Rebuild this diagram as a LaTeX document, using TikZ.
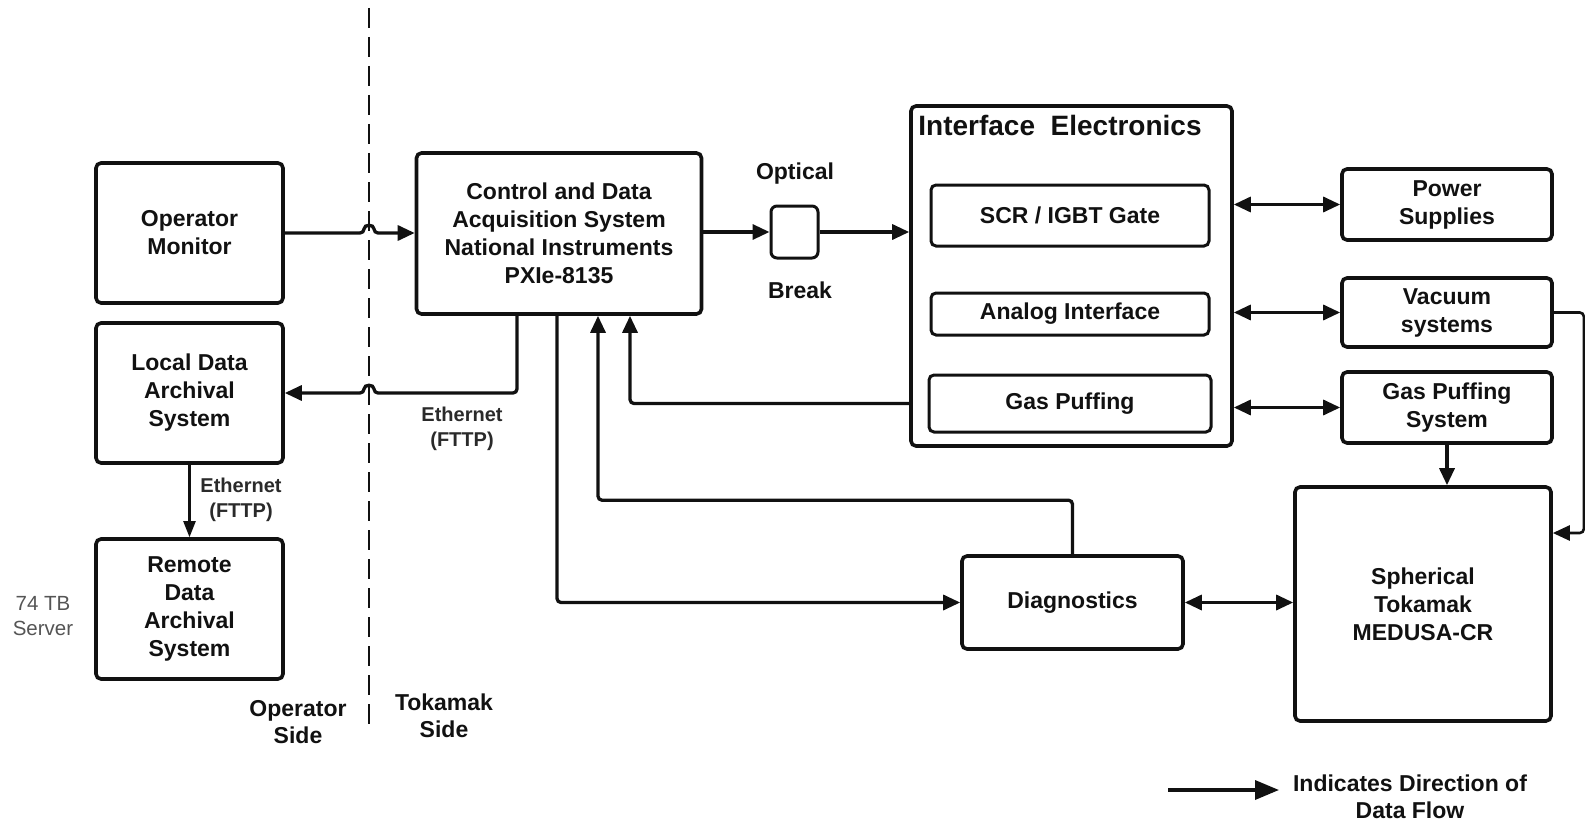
\documentclass[tikz,border=0pt]{standalone}
\usepackage{fontspec}
\setmainfont{Liberation Sans}
\usetikzlibrary{arrows.meta,calc}
\definecolor{ink}{HTML}{111111}
\definecolor{soft}{HTML}{2A2A2A}
\definecolor{note}{HTML}{555555}
\begin{document}
\begin{tikzpicture}[x=1pt,y=-1pt,
  box/.style={draw=ink, line width=3.6pt, rounded corners=5pt, align=center,
    inner sep=0pt, text=ink, font=\bfseries\fontsize{23}{28}\selectfont},
  flow/.style={draw=ink, line width=3.3pt, rounded corners=4pt,
    -{Triangle[length=17pt,width=15pt]}},
  both/.style={draw=ink, line width=3.3pt,
    {Triangle[length=17pt,width=15pt]}-{Triangle[length=17pt,width=15pt]}},
  thinflow/.style={draw=ink, line width=2.2pt,
    -{Triangle[length=16pt,width=12pt]}},
  lbl/.style={align=center, inner sep=0pt, text=ink,
    font=\bfseries\fontsize{23}{27}\selectfont},
  netlbl/.style={align=center, inner sep=0pt, text=soft,
    font=\bfseries\fontsize{20}{25.5}\selectfont},
]
\useasboundingbox (0,0) rectangle (1585,824);

% operator / tokamak divider
\coordinate (dtop) at (369,8);
\coordinate (dbot) at (369,730);
\draw[ink, line width=2.4pt, dash pattern=on 20pt off 9pt] (dtop) -- (dbot);

% operator side
\node[box, minimum width=187pt, minimum height=140pt] (om) at (189.5,233) {Operator\\Monitor};
\node[box, minimum width=187pt, minimum height=140pt] (ld) at (189.5,393) {Local Data\\Archival\\System};
\node[box, minimum width=187pt, minimum height=140pt] (rd) at (189.5,609) {Remote\\Data\\Archival\\System};

% control and acquisition
\node[box, minimum width=285pt, minimum height=161pt] (ctrl) at (559,233.5)
  {Control and Data\\Acquisition System\\National Instruments\\PXIe-8135};

% optical break
\node[draw=ink, line width=3pt, rounded corners=6pt, minimum width=47pt, minimum height=52pt, inner sep=0pt] (ob) at (794.5,232) {};
\node[lbl] (optl) at (795,174) {Optical};
\node[lbl] (brkl) at (800,290) {Break};

% interface electronics
\node[box, minimum width=321pt, minimum height=340pt] (ie) at (1071.5,276) {};
\node[anchor=base west, inner sep=0pt, text=ink, font=\bfseries\fontsize{28}{32}\selectfont]
  (iet) at ([xshift=9pt,yshift=-31pt]ie.north west) {Interface\ \ Electronics};
\node[box, line width=3pt, minimum width=278pt, minimum height=61pt] (scr) at (1070,215.5) {SCR / IGBT Gate};
\node[box, line width=3pt, minimum width=278pt, minimum height=42pt] (an) at (1070,314) {Analog Interface};
\node[box, line width=3pt, minimum width=282pt, minimum height=57pt] (gp) at (1070,403.5) {Gas Puffing};

% plant subsystems
\node[box, minimum width=210pt, minimum height=71pt] (ps) at (1447,204.5) {Power\\Supplies};
\node[box, minimum width=210pt, minimum height=69pt] (vac) at (1447,312.5) {Vacuum\\systems};
\node[box, minimum width=210pt, minimum height=71pt] (gps) at (1447,407.5) {Gas Puffing\\System};
\node[box, minimum width=256pt, minimum height=234pt] (tok) at (1423,604) {Spherical\\Tokamak\\MEDUSA-CR};
\node[box, minimum width=221pt, minimum height=93pt] (diag) at (1072.5,602.5) {Diagnostics};

% operator monitor to control (hop over divider)
\draw[flow] (om.east) -- ($(om.east -| dtop)+(-5,0)$)
  .. controls +(0,-9) and +(0,-9) .. ($(om.east -| dtop)+(5,0)$) -- (om.east -| ctrl.west);

% control to local archive (hop over divider)
\draw[flow] ([xshift=-42pt]ctrl.south) |- ($(ld.east -| dtop)+(5,0)$)
  .. controls +(0,-9) and +(0,-9) .. ($(ld.east -| dtop)+(-5,0)$) -- (ld.east);
\node[netlbl] (eth1) at (462,429) {Ethernet\\(FTTP)};

% local to remote archive
\draw[thinflow] (ld.south) -- (rd.north);
\node[netlbl] (eth2) at (241,500) {Ethernet\\(FTTP)};
\node[align=center, inner sep=0pt, text=note, font=\fontsize{20.5}{25}\selectfont] (srv) at (43,616) {74 TB\\Server};

% optical link
\draw[flow] (ctrl.east |- ob.west) -- (ob.west);
\draw[flow] (ob.east) -- (ob.east -| ie.west);

% interface to subsystems
\draw[both] (ps.west -| ie.east) -- (ps.west);
\draw[both] (vac.west -| ie.east) -- (vac.west);
\draw[both] (gps.west -| ie.east) -- (gps.west);

% vacuum and gas puffing into the tokamak
\coordinate (vin) at ([yshift=71pt]tok.east);
\draw[flow, line width=2.6pt] (vac.east) -| ($(vin)+(31,0)$) -- (vin);
\draw[flow] (gps.south) -- (gps.south |- tok.north);

% diagnostics
\draw[both] (diag.east) -- (diag.east -| tok.west);
\draw[flow] ([xshift=-2pt]ctrl.south) |- (diag.west);
\draw[flow] (diag.north) -- ([yshift=54pt]diag.north) -| ([xshift=39pt]ctrl.south);

% gas puffing feedback to control
\draw[flow] (ie.west |- gp.west) -| ([xshift=71pt]ctrl.south);

% side labels
\node[lbl] (opside) at (298,722) {Operator\\Side};
\node[lbl] (tkside) at (444,716) {Tokamak\\Side};

% legend
\coordinate (lg1) at (1168,790);
\coordinate (lg2) at (1279,790);
\draw[ink, line width=3.5pt, -{Triangle[length=24pt,width=19pt]}] (lg1) -- (lg2);
\node[lbl] (lgt) at (1410,797) {Indicates Direction of\\Data Flow};
\end{tikzpicture}
\end{document}
